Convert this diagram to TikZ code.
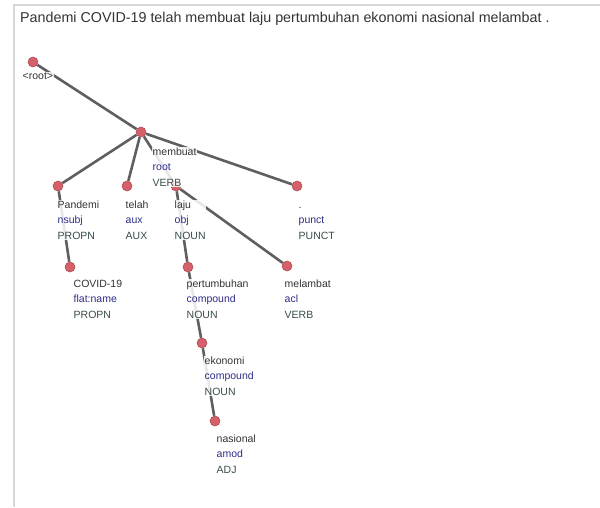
\documentclass[tikz,border=0pt]{standalone}
\usepackage{fontspec}
\setmainfont{Liberation Sans}
\usepackage{xcolor}
\usetikzlibrary{positioning,backgrounds}
\definecolor{dotred}{RGB}{214,96,106}
\definecolor{edgegray}{RGB}{95,95,95}
\definecolor{relblue}{RGB}{45,45,135}
\definecolor{posgray}{RGB}{55,75,75}
\definecolor{framegray}{RGB}{215,215,215}
\newcommand{\tok}[3]{#1\\\textcolor{relblue}{#2}\\\textcolor{posgray}{#3}}

\begin{document}
\begin{tikzpicture}[x=1pt,y=-1pt,
  dot/.style={circle,fill=dotred,draw=dotred!80!black,line width=0.6pt,
              minimum size=10pt,inner sep=0pt},
  dep/.style={edgegray,line width=2.6pt},
  lbl/.style={anchor=base west,align=left,font=\fontsize{10.5}{15.5}\selectfont,
              text=black!80,fill=white,fill opacity=0.85,text opacity=1,inner sep=0.5pt}
]
\useasboundingbox (0,0) rectangle (600,507);
\draw[framegray,line width=2pt] (600,5) -- (14,5) -- (14,507);
\node[anchor=base west,inner sep=0pt,font=\fontsize{14.3}{16}\selectfont,text=black!80] (title) at (20,22)
  {Pandemi COVID-19 telah membuat laju pertumbuhan ekonomi nasional melambat .};

% tokens
\node[dot] (root)        at (33,62)  {};
\node[dot] (membuat)     at (141,132) {};
\node[dot] (pandemi)     at (58,186) {};
\node[dot] (telah)       at (127,186) {};
\node[dot] (laju)        at (176,186) {};
\node[dot] (punct)       at (297,186) {};
\node[dot] (covid)       at (70,267) {};
\node[dot] (pertumbuhan) at (188,267) {};
\node[dot] (melambat)    at (287,266) {};
\node[dot] (ekonomi)     at (202,343) {};
\node[dot] (nasional)    at (215,421) {};

% arcs
\begin{scope}[on background layer]
\draw[dep] (root) -- (membuat);
\draw[dep] (membuat) -- (pandemi);
\draw[dep] (membuat) -- (telah);
\draw[dep] (membuat) -- (laju);
\draw[dep] (membuat) -- (punct);
\draw[dep] (pandemi) -- (covid);
\draw[dep] (laju) -- (pertumbuhan);
\draw[dep] (laju) -- (melambat);
\draw[dep] (pertumbuhan) -- (ekonomi);
\draw[dep] (ekonomi) -- (nasional);
\end{scope}

% labels (base = last line)
\node[lbl] (l-root)        at (22,79)   {<root>};
\node[lbl] (l-membuat)     at (152,186) {\tok{membuat}{root}{VERB}};
\node[lbl] (l-pandemi)     at (57,239)  {\tok{Pandemi}{nsubj}{PROPN}};
\node[lbl] (l-telah)       at (125,239) {\tok{telah}{aux}{AUX}};
\node[lbl] (l-laju)        at (174,239) {\tok{laju}{obj}{NOUN}};
\node[lbl] (l-punct)       at (298,239) {\tok{.}{punct}{PUNCT}};
\node[lbl] (l-covid)       at (73,318)  {\tok{COVID-19}{flat:name}{PROPN}};
\node[lbl] (l-pertumbuhan) at (186,318) {\tok{pertumbuhan}{compound}{NOUN}};
\node[lbl] (l-melambat)    at (284,318) {\tok{melambat}{acl}{VERB}};
\node[lbl] (l-ekonomi)     at (204,395) {\tok{ekonomi}{compound}{NOUN}};
\node[lbl] (l-nasional)    at (216,473) {\tok{nasional}{amod}{ADJ}};
\end{tikzpicture}
\end{document}
